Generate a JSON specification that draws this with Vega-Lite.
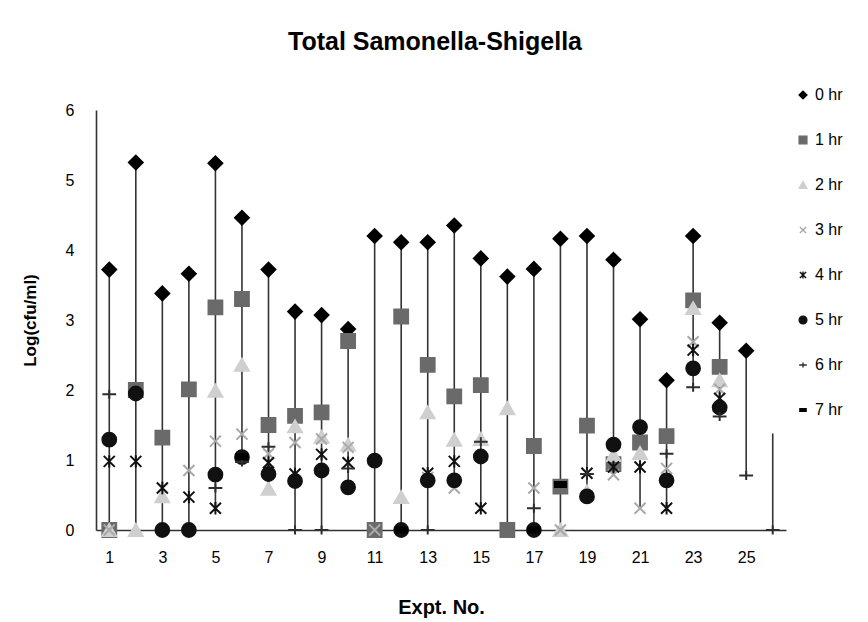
{
  "$schema": "https://vega.github.io/schema/vega-lite/v6.json",
  "width": 690,
  "height": 420,
  "autosize": "none",
  "padding": {"left": 96, "top": 110, "right": 82, "bottom": 92},
  "background": "white",
  "config": {
    "font": "Liberation Sans",
    "view": {"stroke": null}
  },
  "title": {
    "text": "Total Samonella-Shigella",
    "fontSize": 25,
    "fontWeight": "bold",
    "font": "Liberation Sans",
    "color": "#000000",
    "anchor": "middle",
    "offset": 32,
    "dx": -6
  },
  "datasets": {
    "ranges": [
      {"exp": 1, "lo": 0, "hi": 3.72},
      {"exp": 2, "lo": 0, "hi": 5.25},
      {"exp": 3, "lo": 0, "hi": 3.38},
      {"exp": 4, "lo": 0, "hi": 3.66},
      {"exp": 5, "lo": 0.31, "hi": 5.24},
      {"exp": 6, "lo": 0.97, "hi": 4.46},
      {"exp": 7, "lo": 0.59, "hi": 3.72},
      {"exp": 8, "lo": 0, "hi": 3.12},
      {"exp": 9, "lo": 0, "hi": 3.07},
      {"exp": 10, "lo": 0.61, "hi": 2.87},
      {"exp": 11, "lo": 0, "hi": 4.2},
      {"exp": 12, "lo": 0, "hi": 4.11},
      {"exp": 13, "lo": 0, "hi": 4.11},
      {"exp": 14, "lo": 0.6, "hi": 4.35},
      {"exp": 15, "lo": 0.31, "hi": 3.88},
      {"exp": 16, "lo": 0, "hi": 3.62},
      {"exp": 17, "lo": 0, "hi": 3.73},
      {"exp": 18, "lo": 0, "hi": 4.16},
      {"exp": 19, "lo": 0.48, "hi": 4.2},
      {"exp": 20, "lo": 0.79, "hi": 3.86},
      {"exp": 21, "lo": 0.31, "hi": 3.01},
      {"exp": 22, "lo": 0.31, "hi": 2.14},
      {"exp": 23, "lo": 2.04, "hi": 4.2},
      {"exp": 24, "lo": 1.62, "hi": 2.96},
      {"exp": 25, "lo": 0.78, "hi": 2.56},
      {"exp": 26, "lo": 0, "hi": 1.38}
    ],
    "points": [
      {"exp": 1, "hr": "0 hr", "v": 3.72}, {"exp": 1, "hr": "1 hr", "v": 0}, {"exp": 1, "hr": "2 hr", "v": 0}, {"exp": 1, "hr": "3 hr", "v": 0}, {"exp": 1, "hr": "4 hr", "v": 0.98}, {"exp": 1, "hr": "5 hr", "v": 1.29}, {"exp": 1, "hr": "6 hr", "v": 1.94},
      {"exp": 2, "hr": "0 hr", "v": 5.25}, {"exp": 2, "hr": "1 hr", "v": 2.0}, {"exp": 2, "hr": "2 hr", "v": 0}, {"exp": 2, "hr": "4 hr", "v": 0.98}, {"exp": 2, "hr": "5 hr", "v": 1.95},
      {"exp": 3, "hr": "0 hr", "v": 3.38}, {"exp": 3, "hr": "1 hr", "v": 1.32}, {"exp": 3, "hr": "2 hr", "v": 0.48}, {"exp": 3, "hr": "4 hr", "v": 0.6}, {"exp": 3, "hr": "5 hr", "v": 0},
      {"exp": 4, "hr": "0 hr", "v": 3.66}, {"exp": 4, "hr": "1 hr", "v": 2.01}, {"exp": 4, "hr": "3 hr", "v": 0.85}, {"exp": 4, "hr": "4 hr", "v": 0.47}, {"exp": 4, "hr": "5 hr", "v": 0},
      {"exp": 5, "hr": "0 hr", "v": 5.24}, {"exp": 5, "hr": "1 hr", "v": 3.18}, {"exp": 5, "hr": "2 hr", "v": 1.99}, {"exp": 5, "hr": "3 hr", "v": 1.27}, {"exp": 5, "hr": "4 hr", "v": 0.31}, {"exp": 5, "hr": "5 hr", "v": 0.79}, {"exp": 5, "hr": "6 hr", "v": 0.6},
      {"exp": 6, "hr": "0 hr", "v": 4.46}, {"exp": 6, "hr": "1 hr", "v": 3.3}, {"exp": 6, "hr": "2 hr", "v": 2.36}, {"exp": 6, "hr": "3 hr", "v": 1.37}, {"exp": 6, "hr": "5 hr", "v": 1.04}, {"exp": 6, "hr": "6 hr", "v": 0.97}, {"exp": 6, "hr": "7 hr", "v": 1.05},
      {"exp": 7, "hr": "0 hr", "v": 3.72}, {"exp": 7, "hr": "1 hr", "v": 1.5}, {"exp": 7, "hr": "2 hr", "v": 0.59}, {"exp": 7, "hr": "3 hr", "v": 1.09}, {"exp": 7, "hr": "4 hr", "v": 0.96}, {"exp": 7, "hr": "5 hr", "v": 0.8}, {"exp": 7, "hr": "6 hr", "v": 1.19},
      {"exp": 8, "hr": "0 hr", "v": 3.12}, {"exp": 8, "hr": "1 hr", "v": 1.63}, {"exp": 8, "hr": "2 hr", "v": 1.48}, {"exp": 8, "hr": "3 hr", "v": 1.25}, {"exp": 8, "hr": "4 hr", "v": 0.8}, {"exp": 8, "hr": "5 hr", "v": 0.7}, {"exp": 8, "hr": "6 hr", "v": 0},
      {"exp": 9, "hr": "0 hr", "v": 3.07}, {"exp": 9, "hr": "1 hr", "v": 1.68}, {"exp": 9, "hr": "2 hr", "v": 1.33}, {"exp": 9, "hr": "3 hr", "v": 1.3}, {"exp": 9, "hr": "4 hr", "v": 1.08}, {"exp": 9, "hr": "5 hr", "v": 0.85}, {"exp": 9, "hr": "6 hr", "v": 0},
      {"exp": 10, "hr": "0 hr", "v": 2.87}, {"exp": 10, "hr": "1 hr", "v": 2.7}, {"exp": 10, "hr": "2 hr", "v": 1.22}, {"exp": 10, "hr": "3 hr", "v": 1.18}, {"exp": 10, "hr": "4 hr", "v": 0.96}, {"exp": 10, "hr": "5 hr", "v": 0.61}, {"exp": 10, "hr": "6 hr", "v": 0.88},
      {"exp": 11, "hr": "0 hr", "v": 4.2}, {"exp": 11, "hr": "1 hr", "v": 0}, {"exp": 11, "hr": "3 hr", "v": 0}, {"exp": 11, "hr": "5 hr", "v": 0.99},
      {"exp": 12, "hr": "0 hr", "v": 4.11}, {"exp": 12, "hr": "1 hr", "v": 3.05}, {"exp": 12, "hr": "2 hr", "v": 0.47}, {"exp": 12, "hr": "5 hr", "v": 0}, {"exp": 12, "hr": "7 hr", "v": 0},
      {"exp": 13, "hr": "0 hr", "v": 4.11}, {"exp": 13, "hr": "1 hr", "v": 2.36}, {"exp": 13, "hr": "2 hr", "v": 1.68}, {"exp": 13, "hr": "3 hr", "v": 0.75}, {"exp": 13, "hr": "4 hr", "v": 0.81}, {"exp": 13, "hr": "5 hr", "v": 0.71}, {"exp": 13, "hr": "6 hr", "v": 0},
      {"exp": 14, "hr": "0 hr", "v": 4.35}, {"exp": 14, "hr": "1 hr", "v": 1.91}, {"exp": 14, "hr": "2 hr", "v": 1.29}, {"exp": 14, "hr": "3 hr", "v": 0.6}, {"exp": 14, "hr": "4 hr", "v": 0.98}, {"exp": 14, "hr": "5 hr", "v": 0.71},
      {"exp": 15, "hr": "0 hr", "v": 3.88}, {"exp": 15, "hr": "1 hr", "v": 2.07}, {"exp": 15, "hr": "2 hr", "v": 1.3}, {"exp": 15, "hr": "4 hr", "v": 0.31}, {"exp": 15, "hr": "5 hr", "v": 1.05}, {"exp": 15, "hr": "6 hr", "v": 1.26},
      {"exp": 16, "hr": "0 hr", "v": 3.62}, {"exp": 16, "hr": "1 hr", "v": 0}, {"exp": 16, "hr": "2 hr", "v": 1.74},
      {"exp": 17, "hr": "0 hr", "v": 3.73}, {"exp": 17, "hr": "1 hr", "v": 1.2}, {"exp": 17, "hr": "3 hr", "v": 0.6}, {"exp": 17, "hr": "5 hr", "v": 0}, {"exp": 17, "hr": "6 hr", "v": 0.31}, {"exp": 17, "hr": "7 hr", "v": 0},
      {"exp": 18, "hr": "0 hr", "v": 4.16}, {"exp": 18, "hr": "1 hr", "v": 0.62}, {"exp": 18, "hr": "2 hr", "v": 0}, {"exp": 18, "hr": "3 hr", "v": 0}, {"exp": 18, "hr": "7 hr", "v": 0.65},
      {"exp": 19, "hr": "0 hr", "v": 4.2}, {"exp": 19, "hr": "1 hr", "v": 1.49}, {"exp": 19, "hr": "2 hr", "v": 0.55}, {"exp": 19, "hr": "4 hr", "v": 0.81}, {"exp": 19, "hr": "5 hr", "v": 0.48}, {"exp": 19, "hr": "6 hr", "v": 0.8},
      {"exp": 20, "hr": "0 hr", "v": 3.86}, {"exp": 20, "hr": "1 hr", "v": 0.94}, {"exp": 20, "hr": "2 hr", "v": 1.07}, {"exp": 20, "hr": "3 hr", "v": 0.79}, {"exp": 20, "hr": "4 hr", "v": 0.9}, {"exp": 20, "hr": "5 hr", "v": 1.22},
      {"exp": 21, "hr": "0 hr", "v": 3.01}, {"exp": 21, "hr": "1 hr", "v": 1.25}, {"exp": 21, "hr": "2 hr", "v": 1.1}, {"exp": 21, "hr": "3 hr", "v": 0.31}, {"exp": 21, "hr": "4 hr", "v": 0.9}, {"exp": 21, "hr": "5 hr", "v": 1.47},
      {"exp": 22, "hr": "0 hr", "v": 2.14}, {"exp": 22, "hr": "1 hr", "v": 1.34}, {"exp": 22, "hr": "3 hr", "v": 0.88}, {"exp": 22, "hr": "4 hr", "v": 0.31}, {"exp": 22, "hr": "5 hr", "v": 0.71}, {"exp": 22, "hr": "6 hr", "v": 1.09},
      {"exp": 23, "hr": "0 hr", "v": 4.2}, {"exp": 23, "hr": "1 hr", "v": 3.28}, {"exp": 23, "hr": "2 hr", "v": 3.17}, {"exp": 23, "hr": "3 hr", "v": 2.69}, {"exp": 23, "hr": "4 hr", "v": 2.57}, {"exp": 23, "hr": "5 hr", "v": 2.31}, {"exp": 23, "hr": "6 hr", "v": 2.04},
      {"exp": 24, "hr": "0 hr", "v": 2.96}, {"exp": 24, "hr": "1 hr", "v": 2.33}, {"exp": 24, "hr": "2 hr", "v": 2.14}, {"exp": 24, "hr": "3 hr", "v": 2.01}, {"exp": 24, "hr": "4 hr", "v": 1.88}, {"exp": 24, "hr": "5 hr", "v": 1.75}, {"exp": 24, "hr": "6 hr", "v": 1.62},
      {"exp": 25, "hr": "0 hr", "v": 2.56}, {"exp": 25, "hr": "6 hr", "v": 0.78},
      {"exp": 26, "hr": "6 hr", "v": 0}
    ]
  },
  "layer": [
    {
      "data": {"name": "ranges"},
      "mark": {"type": "rule", "color": "#333333", "strokeWidth": 1.6},
      "encoding": {
        "x": {"field": "exp", "type": "quantitative"},
        "y": {"field": "lo", "type": "quantitative"},
        "y2": {"field": "hi"}
      }
    },
    {
      "data": {"name": "points"},
      "mark": {"type": "point", "filled": true, "size": 190, "strokeWidth": 2, "opacity": 1},
      "encoding": {
        "x": {
          "field": "exp", "type": "quantitative",
          "scale": {"domain": [0.5, 26.5], "nice": false, "zero": false},
          "axis": {
            "title": "Expt. No.",
            "values": [1, 3, 5, 7, 9, 11, 13, 15, 17, 19, 21, 23, 25],
            "format": "d",
            "grid": false, "ticks": false,
            "domainColor": "#333333", "domainWidth": 1.6,
            "labelFontSize": 16, "labelColor": "#000000", "labelPadding": 19,
            "labelFont": "Liberation Sans",
            "titleFontSize": 20, "titleFontWeight": "bold", "titleColor": "#000000",
            "titlePadding": 32, "titleFont": "Liberation Sans"
          }
        },
        "y": {
          "field": "v", "type": "quantitative",
          "scale": {"domain": [0, 6], "nice": false},
          "axis": {
            "title": "Log(cfu/ml)",
            "values": [0, 1, 2, 3, 4, 5, 6],
            "format": "d",
            "grid": false, "ticks": false,
            "domainColor": "#333333", "domainWidth": 1.6,
            "labelFontSize": 16, "labelColor": "#000000", "labelPadding": 22,
            "labelFont": "Liberation Sans",
            "titleFontSize": 17, "titleFontWeight": "bold", "titleColor": "#000000",
            "titlePadding": 26, "titleFont": "Liberation Sans"
          }
        },
        "shape": {
          "field": "hr", "type": "nominal",
          "scale": {
            "domain": ["0 hr", "1 hr", "2 hr", "3 hr", "4 hr", "5 hr", "6 hr", "7 hr"],
            "range": [
              "diamond",
              "square",
              "triangle-up",
              "M-0.8,-0.8L0.8,0.8M-0.8,0.8L0.8,-0.8",
              "M-0.8,-0.8L0.8,0.8M-0.8,0.8L0.8,-0.8M0,-0.9L0,0.9",
              "circle",
              "M-1,0L1,0M0,-0.65L0,0.65",
              "M-0.8,-0.35L0.8,-0.35L0.8,0.35L-0.8,0.35Z"
            ]
          },
          "legend": {
            "title": null, "orient": "none", "legendX": 699, "legendY": -23,
            "symbolSize": 60, "labelFontSize": 16, "labelFont": "Liberation Sans",
            "labelColor": "#000000", "rowPadding": 29, "padding": 0,
            "symbolStrokeWidth": 1.4, "labelOffset": 4
          }
        },
        "color": {
          "field": "hr", "type": "nominal",
          "scale": {
            "domain": ["0 hr", "1 hr", "2 hr", "3 hr", "4 hr", "5 hr", "6 hr", "7 hr"],
            "range": ["#000000", "#6a6a6a", "#cfcfcf", "#a9a9a9", "#111111", "#111111", "#2e2e2e", "#000000"]
          },
          "legend": {
            "title": null, "orient": "none", "legendX": 699, "legendY": -23,
            "symbolSize": 60, "labelFontSize": 16, "labelFont": "Liberation Sans",
            "labelColor": "#000000", "rowPadding": 29, "padding": 0,
            "symbolStrokeWidth": 1.4, "labelOffset": 4
          }
        },
        "stroke": {
          "field": "hr", "type": "nominal",
          "scale": {
            "domain": ["0 hr", "1 hr", "2 hr", "3 hr", "4 hr", "5 hr", "6 hr", "7 hr"],
            "range": ["#000000", "#6a6a6a", "#cfcfcf", "#a9a9a9", "#111111", "#111111", "#2e2e2e", "#000000"]
          },
          "legend": {
            "title": null, "orient": "none", "legendX": 699, "legendY": -23,
            "symbolSize": 60, "labelFontSize": 16, "labelFont": "Liberation Sans",
            "labelColor": "#000000", "rowPadding": 29, "padding": 0,
            "symbolStrokeWidth": 1.4, "labelOffset": 4
          }
        }
      }
    }
  ]
}
